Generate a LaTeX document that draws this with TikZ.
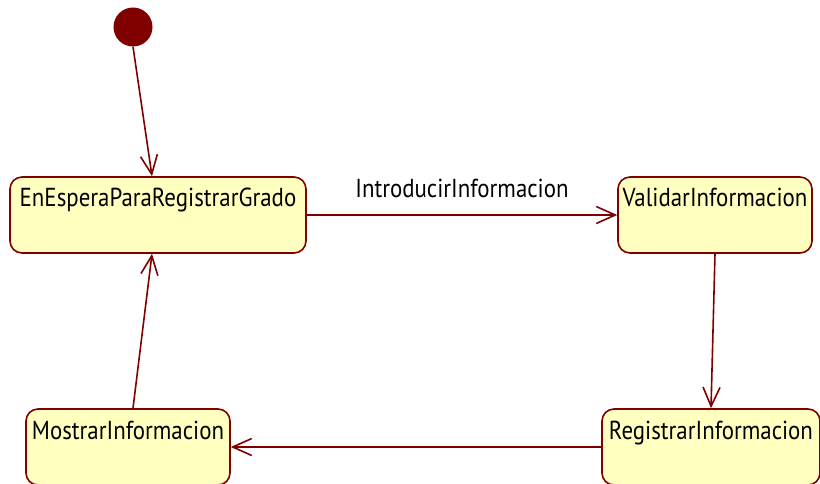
\documentclass[tikz,border=0pt]{standalone}
\usepackage{fontspec}
\setmainfont[FakeStretch=0.88]{PT Sans}
\usetikzlibrary{arrows.meta, positioning}
\definecolor{umlred}{RGB}{128,0,0}
\definecolor{umlfill}{RGB}{255,255,192}

\begin{document}
\begin{tikzpicture}[x=1pt,y=-1pt,
  state/.style={draw=umlred, fill=umlfill, line width=1.6pt, rounded corners=12pt,
    minimum height=76pt, inner xsep=0pt, inner ysep=0pt,
    text height=30pt, text depth=46pt, font=\fontsize{26}{30}\selectfont},
  trans/.style={draw=umlred, line width=1.6pt,
    -{Straight Barb[length=19pt,width=17pt]}}]
\useasboundingbox (0,0) rectangle (820,484);

\node (ini) [circle, fill=umlred, minimum size=39pt, inner sep=0pt] at (133,27) {};
\node (espera) [state, minimum width=296pt] at (158,215) {EnEsperaParaRegistrarGrado};
\node (validar) [state, minimum width=194pt] at (715,215) {ValidarInformacion};
\node (registrar) [state, minimum width=218pt] at (711,447) {RegistrarInformacion};
\node (mostrar) [state, minimum width=204pt] at (128,447) {MostrarInformacion};

\draw [trans] (ini.south) -- ([xshift=-6pt]espera.north);
\draw [trans] (espera.east) -- node (lbl) [above=13pt, font=\fontsize{26}{30}\selectfont] {IntroducirInformacion} (validar.west);
\draw [trans] (validar.south) -- (registrar.north);
\draw [trans] (registrar.west) -- (mostrar.east);
\draw [trans] ([xshift=5pt]mostrar.north) -- ([xshift=-6pt]espera.south);
\end{tikzpicture}
\end{document}
